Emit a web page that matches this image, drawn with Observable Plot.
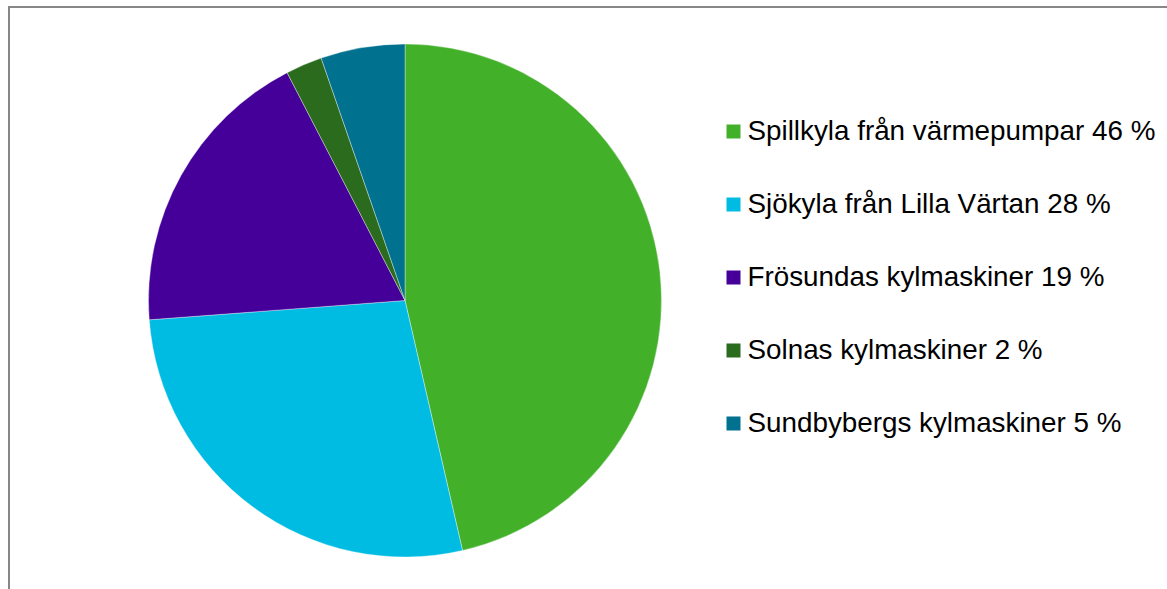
<!DOCTYPE html>
<html>
<head>
<meta charset="utf-8">
<script src="https://cdn.jsdelivr.net/npm/d3@7"></script>
<script src="https://cdn.jsdelivr.net/npm/@observablehq/plot@0.6"></script>
<style>
  html, body { margin: 0; padding: 0; background: #fff; overflow: hidden; }
  #wrap { position: relative; width: 1167px; height: 589px; }
  #frame { position: absolute; left: 8px; top: 6px; width: 1400px; height: 800px;
           border-left: 2px solid #878787; border-top: 2px solid #878787; box-sizing: border-box; }
  #chart { position: absolute; left: 0; top: 0; }
</style>
</head>
<body>
<div id="wrap"><div id="frame"></div><div id="chart"></div></div>
<script>
const categories = [
  "Spillkyla från värmepumpar",
  "Sjökyla från Lilla Värtan",
  "Frösundas kylmaskiner",
  "Solnas kylmaskiner",
  "Sundbybergs kylmaskiner"
];
const sliceValues = [46.4, 27.4, 18.6, 2.3, 5.3];
const legendPercents = [46, 28, 19, 2, 5];
const colors = ["#43B02A", "#00BCE3", "#440099", "#2A6B1E", "#00718F"];

const rows = categories.map((c, i) => ({category: c, value: sliceValues[i], pct: legendPercents[i]}));

function pieMark(index, scales, values, dimensions) {
  const cx = 405, cy = 300.5, r = 256.5;
  const arcs = d3.pie().sort(null).value(d => d.value)(rows);
  const arc = d3.arc().innerRadius(0).outerRadius(r);
  const g = d3.create("svg:g").attr("transform", `translate(${cx},${cy})`);
  g.selectAll("path").data(arcs).join("path")
    .attr("d", arc)
    .attr("fill", d => scales.color(d.data.category))
    .attr("stroke", "#ffffff")
    .attr("stroke-opacity", 0.6)
    .attr("stroke-width", 0.6);
  return g.node();
}

const chart = Plot.plot({
  width: 1167,
  height: 589,
  margin: 0,
  style: {background: "transparent", fontFamily: "'Liberation Sans', Arial, sans-serif"},
  x: {domain: [0, 1], range: [733, 1160], axis: null},
  y: {type: "point", domain: categories, range: [130, 423.5], padding: 0, axis: null},
  color: {domain: categories, range: colors},
  marks: [
    pieMark,
    Plot.dot(rows, {x: 0, y: "category", fill: "category", symbol: "square", r: 7.9, stroke: null}),
    Plot.text(rows, {x: 0, y: "category", text: d => `${d.category} ${d.pct} %`, dx: 14,
      textAnchor: "start", fontSize: 27.8, fill: "#000"})
  ]
});
document.getElementById("chart").appendChild(chart);
</script>
</body>
</html>
